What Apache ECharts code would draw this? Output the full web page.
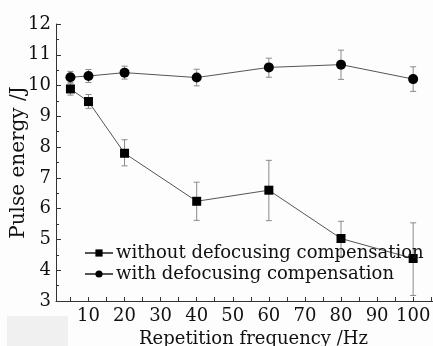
<!DOCTYPE html>
<html>
<head>
<meta charset="utf-8">
<script src="https://cdn.jsdelivr.net/npm/echarts@6/dist/echarts.min.js"></script>
<style>
  html, body { margin: 0; padding: 0; background: #fdfdfd; }
  #chart { width: 433px; height: 346px; }
</style>
</head>
<body>
<div id="chart"></div>
<script>
// repetition frequency (Hz)
const freq = [5, 10, 20, 40, 60, 80, 100];
// without defocusing compensation: mean, low, high
const withoutMean = [9.89, 9.48, 7.80, 6.24, 6.60, 5.03, 4.38];
const withoutLow  = [9.69, 9.26, 7.39, 5.62, 5.61, 4.45, 3.18];
const withoutHigh = [10.09, 9.71, 8.24, 6.86, 7.57, 5.59, 5.54];
// with defocusing compensation: mean, low, high
const withMean = [10.27, 10.31, 10.42, 10.26, 10.59, 10.68, 10.21];
const withLow  = [10.08, 10.10, 10.21, 9.99, 10.27, 10.20, 9.81];
const withHigh = [10.46, 10.52, 10.63, 10.53, 10.89, 11.15, 10.61];
// tick labels
const xLabels = [10, 20, 30, 40, 50, 60, 70, 80, 90, 100];
const xTicks = [5, 10, 15, 20, 25, 30, 35, 40, 45, 50, 55, 60, 65, 70, 75, 80, 85, 90, 95, 100, 105];

const font = "DejaVu Serif";
const chart = echarts.init(document.getElementById("chart"));

function pairs(ys) {
  return freq.map((x, i) => [x, ys[i]]);
}
function errData(lo, hi) {
  return freq.map((x, i) => [x, lo[i], hi[i]]);
}
function errorBars(params, api) {
  const x = api.value(0);
  const top = api.coord([x, api.value(2)]);
  const bot = api.coord([x, api.value(1)]);
  const hw = 3;
  const style = { stroke: "#8a8a8a", lineWidth: 1 };
  return {
    type: "group",
    children: [
      { type: "line", shape: { x1: top[0], y1: top[1], x2: bot[0], y2: bot[1] }, style: style },
      { type: "line", shape: { x1: top[0] - hw, y1: top[1], x2: top[0] + hw, y2: top[1] }, style: style },
      { type: "line", shape: { x1: bot[0] - hw, y1: bot[1], x2: bot[0] + hw, y2: bot[1] }, style: style }
    ]
  };
}

const option = {
  backgroundColor: "#fdfdfd",
  animation: false,
  grid: { left: 56, right: 0, top: 24, bottom: 45, outerBoundsMode: "none" },
  graphic: [
    { type: "rect", left: 7, top: 316, shape: { width: 61, height: 30 }, style: { fill: "#f0f0f0" }, z: -1 }
  ],
  legend: {
    left: 84,
    top: 244,
    padding: 0,
    orient: "vertical",
    itemWidth: 28,
    itemHeight: 9,
    itemGap: 3,
    data: ["without defocusing compensation", "with defocusing compensation"],
    textStyle: { fontFamily: font, fontSize: 18, color: "#111", overflow: "none", width: 400, padding: [0, 0, 0, -2] }
  },
  xAxis: {
    type: "value",
    min: 1,
    max: 105.5,
    name: "Repetition frequency /Hz",
    nameLocation: "middle",
    nameGap: 26,
    nameTextStyle: { fontFamily: font, fontSize: 18, color: "#111", padding: [0, 0, 0, 18] },
    axisLine: { show: true, lineStyle: { color: "#333", width: 1 } },
    axisTick: { show: true, inside: true, length: 4, customValues: xTicks, lineStyle: { color: "#333" } },
    axisLabel: { customValues: xLabels, fontFamily: font, fontSize: 18, color: "#111", margin: 6 },
    splitLine: { show: false }
  },
  yAxis: {
    type: "value",
    min: 3,
    max: 12,
    interval: 1,
    name: "Pulse energy /J",
    nameLocation: "middle",
    nameGap: 27,
    nameMoveOverlap: false,
    nameTextStyle: { fontFamily: font, fontSize: 20, color: "#111" },
    axisLine: { show: true, lineStyle: { color: "#333", width: 1 } },
    axisTick: { show: true, inside: true, length: 5, lineStyle: { color: "#333" } },
    minorTick: { show: true, splitNumber: 2, length: 3, lineStyle: { color: "#333" } },
    axisLabel: { fontFamily: font, fontSize: 18, color: "#111", margin: 5 },
    splitLine: { show: false }
  },
  series: [
    {
      type: "custom",
      renderItem: errorBars,
      data: errData(withoutLow, withoutHigh),
      z: 1,
      silent: true
    },
    {
      type: "custom",
      renderItem: errorBars,
      data: errData(withLow, withHigh),
      z: 1,
      silent: true
    },
    {
      name: "without defocusing compensation",
      type: "line",
      data: pairs(withoutMean),
      symbol: "rect",
      symbolSize: 9,
      lineStyle: { color: "#555", width: 1 },
      itemStyle: { color: "#000" },
      z: 3
    },
    {
      name: "with defocusing compensation",
      type: "line",
      data: pairs(withMean),
      symbol: "circle",
      symbolSize: 10,
      lineStyle: { color: "#555", width: 1 },
      itemStyle: { color: "#000" },
      z: 3
    }
  ]
};
chart.setOption(option);
</script>
</body>
</html>
